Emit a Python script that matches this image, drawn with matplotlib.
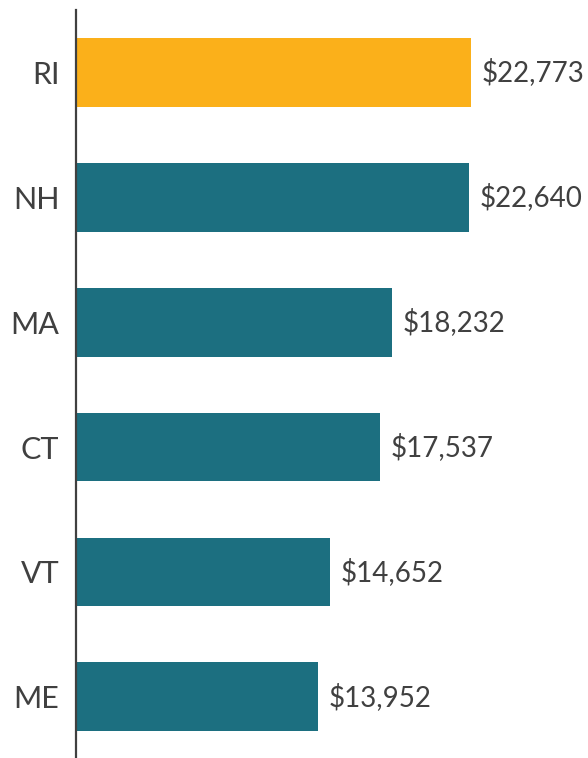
import matplotlib.pyplot as plt

## Data
states = ["RI", "NH", "MA", "CT", "VT", "ME"]
values = [22773, 22640, 18232, 17537, 14652, 13952]
highlight = "RI"

## Style
plt.rcParams['font.family'] = ['Lato', 'DejaVu Sans']
text_color = '#404040'
orange = '#FBB01A'
teal = '#1C6F80'

fig = plt.figure(figsize=(5.88, 7.58), dpi=100)
ax = fig.add_axes([76 / 588, 0, 512 / 588, 748 / 758])

colors = [orange if s == highlight else teal for s in states]
ax.barh(range(len(states)), values, height=0.55, color=colors)

# value labels
for i, v in enumerate(values):
    ax.text(v + 600, i, f"${v:,}", va='center', ha='left',
            fontsize=20, color=text_color)

ax.set_yticks(range(len(states)))
ax.set_yticklabels(states, fontsize=22, color=text_color)
ax.tick_params(axis='y', length=0, pad=12)
ax.set_xticks([])
ax.set_xlim(0, 29510)
ax.set_ylim(5.49, -0.5)

for side in ['top', 'right', 'bottom']:
    ax.spines[side].set_visible(False)
ax.spines['left'].set_color(text_color)
ax.spines['left'].set_linewidth(1.6)

fig.savefig('out.png', dpi=100)
